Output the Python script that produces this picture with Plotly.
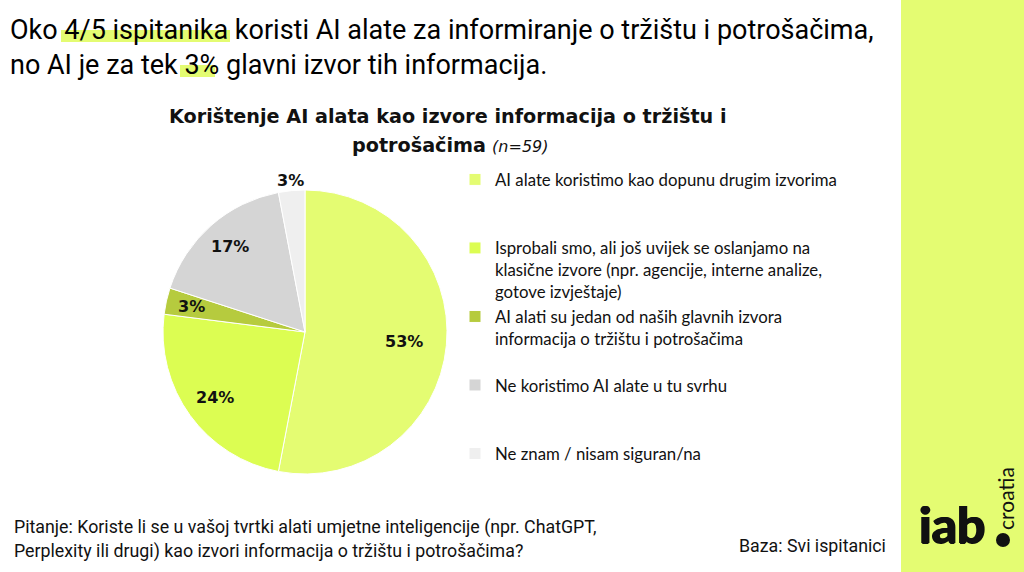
import math
import plotly.graph_objects as go

# ---- data ----
categories = [
    "AI alate koristimo kao dopunu drugim izvorima",
    "Isprobali smo, ali još uvijek se oslanjamo na<br>klasične izvore (npr. agencije, interne analize,<br>gotove izvještaje)",
    "AI alati su jedan od naših glavnih izvora<br>informacija o tržištu i potrošačima",
    "Ne koristimo AI alate u tu svrhu",
    "Ne znam / nisam siguran/na",
]
values = [53, 24, 3, 17, 3]
value_labels = ["53%", "24%", "3%", "17%", "3%"]
colors = ["#E4FC72", "#DCFD52", "#B6CB3E", "#D5D5D5", "#EFEFEF"]
# blank padding lines so legend entries are evenly spaced
pad_lines = [2, 0, 1, 2, 0]

W, H = 1024, 572
cx, cy, R = 305, 332, 142  # pie centre / radius in px


def X(px):
    return px / W


def Y(py):
    return 1 - py / H


legend_labels = [c + "<br> " * p for c, p in zip(categories, pad_lines)]

fig = go.Figure()
fig.add_trace(go.Pie(
    labels=legend_labels,
    values=values,
    sort=False,
    direction="clockwise",
    rotation=0,
    marker=dict(colors=colors, line=dict(color="white", width=1)),
    textinfo="none",
    hoverinfo="skip",
    domain=dict(x=[X(cx - R), X(cx + R)], y=[Y(cy + R), Y(cy - R)]),
    showlegend=True,
))

# value labels placed from the data (mid-angle of each slice)
total = sum(values)
cum = 0
radial = [0.70, 0.78, 0.82, 0.80, 1.07]
for v, lab, rf in zip(values, value_labels, radial):
    mid = (cum + v / 2) / total * 2 * math.pi
    cum += v
    px = cx + rf * R * math.sin(mid)
    py = cy - rf * R * math.cos(mid)
    fig.add_annotation(x=X(px), y=Y(py), xref="paper", yref="paper",
                       xanchor="center", yanchor="middle",
                       text=f"<b>{lab}</b>", showarrow=False,
                       font=dict(family="DejaVu Sans, sans-serif", size=16, color="#111111"))

narrow = "Roboto, sans-serif"

# right-hand lime band
fig.add_shape(type="rect", xref="paper", yref="paper", x0=X(901), x1=1, y0=0, y1=1,
              fillcolor="#E4FC72", line=dict(width=0), layer="below")
# headline highlights
fig.add_shape(type="rect", xref="paper", yref="paper", x0=X(61), x1=X(230),
              y0=Y(42), y1=Y(30), fillcolor="#E4FC72", line=dict(width=0), layer="below")
fig.add_shape(type="rect", xref="paper", yref="paper", x0=X(180), x1=X(215),
              y0=Y(77), y1=Y(65), fillcolor="#E4FC72", line=dict(width=0), layer="below")

# headline
fig.add_annotation(x=X(8), y=Y(12), xref="paper", yref="paper", xanchor="left", yanchor="top",
                   align="left", showarrow=False,
                   text="Oko 4/5 ispitanika koristi AI alate za informiranje o tržištu i potrošačima,<br>"
                        "no AI je za tek 3% glavni izvor tih informacija.",
                   font=dict(family=narrow, size=27, color="#000000"))

# chart title
fig.add_annotation(x=X(447), y=Y(116), xref="paper", yref="paper", xanchor="center", yanchor="middle",
                   showarrow=False,
                   text="<b>Korištenje AI alata kao izvore informacija o tržištu i</b>",
                   font=dict(family="DejaVu Sans, sans-serif", size=19.2, color="#111111"))
fig.add_annotation(x=X(450), y=Y(145), xref="paper", yref="paper", xanchor="center", yanchor="middle",
                   showarrow=False,
                   text="<b>potrošačima</b> <i><span style='font-size:16px'>(n=59)</span></i>",
                   font=dict(family="DejaVu Sans, sans-serif", size=19.2, color="#111111"))

# footer
fig.add_annotation(x=X(12), y=Y(527), xref="paper", yref="paper", xanchor="left", yanchor="middle",
                   showarrow=False,
                   text="Pitanje: Koriste li se u vašoj tvrtki alati umjetne inteligencije (npr. ChatGPT,",
                   font=dict(family=narrow, size=17.8, color="#111111"))
fig.add_annotation(x=X(12), y=Y(551), xref="paper", yref="paper", xanchor="left", yanchor="middle",
                   showarrow=False,
                   text="Perplexity ili drugi) kao izvori informacija o tržištu i potrošačima?",
                   font=dict(family=narrow, size=17.8, color="#111111"))
fig.add_annotation(x=X(888), y=Y(545), xref="paper", yref="paper", xanchor="right", yanchor="middle",
                   showarrow=False, text="Baza: Svi ispitanici",
                   font=dict(family=narrow, size=17.8, color="#111111"))

# logo
fig.add_annotation(x=X(917), y=Y(524), xref="paper", yref="paper", xanchor="left", yanchor="middle",
                   showarrow=False, text="<b>iab</b>",
                   font=dict(family="Lato, sans-serif", size=50, color="#111111",
                             shadow="1px 0 0 #111111, -1px 0 0 #111111, 0 1px 0 #111111"))
fig.add_annotation(x=X(1005), y=Y(499), xref="paper", yref="paper", xanchor="center", yanchor="middle",
                   showarrow=False, text="croatia", textangle=-90,
                   font=dict(family="Lato, sans-serif", size=21, color="#111111"))
fig.add_shape(type="circle", xref="paper", yref="paper",
              x0=X(996), x1=X(1010), y0=Y(547), y1=Y(533),
              fillcolor="#111111", line=dict(width=0))

fig.update_layout(
    width=W, height=H,
    margin=dict(l=0, r=0, t=0, b=0),
    paper_bgcolor="white",
    plot_bgcolor="white",
    legend=dict(x=X(455), y=Y(162), xanchor="left", yanchor="top",
                valign="top", traceorder="normal",
                font=dict(family="Lato, sans-serif", size=16.8, color="#111111"),
                itemclick=False, bgcolor="rgba(0,0,0,0)"),
)

fig.write_html("out.html", config={"displayModeBar": False},
               post_script="document.body.style.margin='0';")
